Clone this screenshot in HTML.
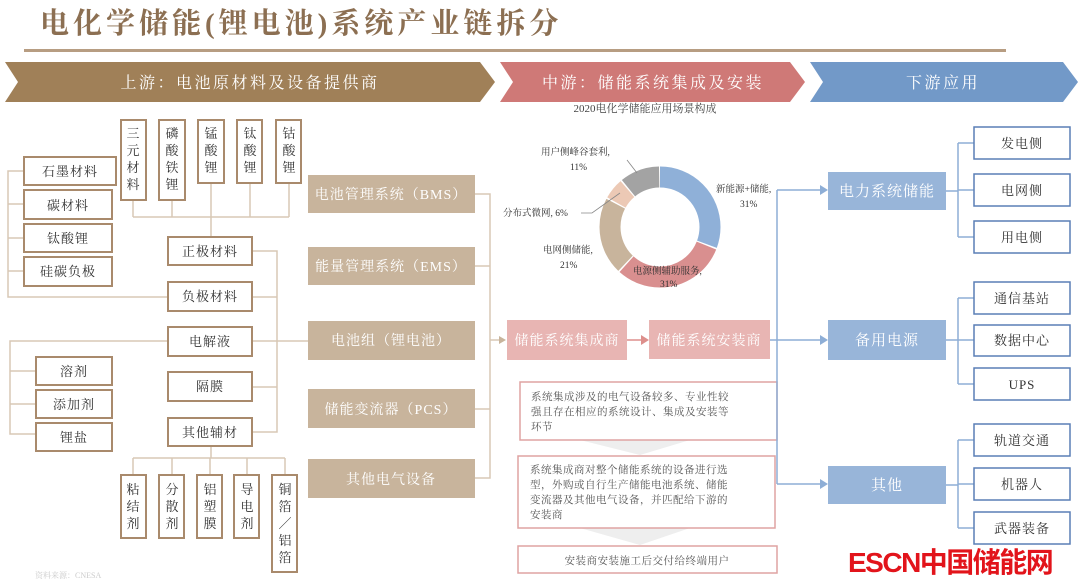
<!DOCTYPE html>
<html><head><meta charset="utf-8"><style>
html,body{margin:0;padding:0;background:#fff;}
svg{display:block;font-family:"Liberation Serif","Noto Serif CJK SC",serif;}
</style></head><body>
<svg width="1080" height="588" viewBox="0 0 1080 588" xmlns="http://www.w3.org/2000/svg">
<!-- title -->
<text x="40" y="33" font-size="29" fill="#8c6f52" font-weight="bold" letter-spacing="4" font-family="Liberation Serif,Noto Serif CJK SC,serif">电化学储能(锂电池)系统产业链拆分</text>
<rect x="24" y="49" width="982" height="3" fill="#b79d82"/>
<!-- chevrons -->
<polygon points="5,62 480,62 495,82 480,102 5,102 18,82" fill="#a08058"/>
<polygon points="500,62 790,62 805,82 790,102 500,102 513,82" fill="#cf7977"/>
<polygon points="810,62 1063,62 1078,82 1063,102 810,102 823,82" fill="#7299c8"/>
<g fill="#fff" font-size="16" text-anchor="middle" letter-spacing="2.5">
<text x="250" y="88">上游：电池原材料及设备提供商</text>
<text x="653" y="88">中游：储能系统集成及安装</text>
<text x="943" y="88">下游应用</text>
</g>
<!-- upstream lines -->
<g stroke="#d8c8b6" stroke-width="1.5" fill="none">
<path d="M24,171 H8 V297 H168"/>
<path d="M8,204 H24 M8,238 H24 M8,271 H24"/>
<path d="M133,200 V217 M172,200 V217 M250,183 V217 M289,183 V217 M133,217 H289"/>
<path d="M211,183 V237"/>
<path d="M252,251 H277 V432 H252 M252,297 H277 M252,387 H277 M252,341 H308"/>
<path d="M168,341 H10 V434 H36 M10,371 H36 M10,404 H36"/>
<path d="M211,446 V458 M133,458 H285 M133,458 V475 M172,458 V475 M210,458 V475 M247,458 V475 M285,458 V475"/>
<path d="M475,194 H490 V478 H475 M475,266 H490 M475,409 H490 M490,340 H500"/>
</g>
<polygon points="499,336 506,340 499,344" fill="#c8b49c"/>
<g fill="#fff" stroke="#a98a6c" stroke-width="2">
<rect x="24" y="157" width="92" height="28"/>
<rect x="24" y="190" width="88" height="29"/>
<rect x="24" y="224" width="88" height="28"/>
<rect x="24" y="257" width="88" height="29"/>
<rect x="121" y="120" width="25" height="80"/>
<rect x="159" y="120" width="26" height="80"/>
<rect x="198" y="120" width="26" height="63"/>
<rect x="237" y="120" width="25" height="63"/>
<rect x="276" y="120" width="25" height="63"/>
<rect x="168" y="237" width="84" height="28"/>
<rect x="168" y="282" width="84" height="29"/>
<rect x="168" y="327" width="84" height="29"/>
<rect x="168" y="372" width="84" height="29"/>
<rect x="168" y="418" width="84" height="28"/>
<rect x="36" y="357" width="76" height="28"/>
<rect x="36" y="390" width="76" height="28"/>
<rect x="36" y="423" width="76" height="28"/>
<rect x="121" y="475" width="25" height="63"/>
<rect x="159" y="475" width="25" height="63"/>
<rect x="197" y="475" width="25" height="63"/>
<rect x="234" y="475" width="25" height="63"/>
<rect x="272" y="475" width="25" height="97"/>
</g>
<g fill="#333" font-size="13" text-anchor="middle" letter-spacing="1">
<text x="70" y="176">石墨材料</text>
<text x="68" y="210">碳材料</text>
<text x="68" y="243">钛酸锂</text>
<text x="68" y="276">硅碳负极</text>
<text x="210" y="256">正极材料</text>
<text x="210" y="301">负极材料</text>
<text x="210" y="346">电解液</text>
<text x="210" y="391">隔膜</text>
<text x="210" y="437">其他辅材</text>
<text x="74" y="376">溶剂</text>
<text x="74" y="409">添加剂</text>
<text x="74" y="442">锂盐</text>
</g>
<g fill="#333" font-size="13" text-anchor="middle">
<text x="133" y="138">三</text><text x="133" y="155">元</text><text x="133" y="172">材</text><text x="133" y="189">料</text>
<text x="172" y="138">磷</text><text x="172" y="155">酸</text><text x="172" y="172">铁</text><text x="172" y="189">锂</text>
<text x="211" y="138">锰</text><text x="211" y="155">酸</text><text x="211" y="172">锂</text>
<text x="250" y="138">钛</text><text x="250" y="155">酸</text><text x="250" y="172">锂</text>
<text x="289" y="138">钴</text><text x="289" y="155">酸</text><text x="289" y="172">锂</text>
<text x="133" y="494">粘</text><text x="133" y="511">结</text><text x="133" y="528">剂</text>
<text x="172" y="494">分</text><text x="172" y="511">散</text><text x="172" y="528">剂</text>
<text x="210" y="494">铝</text><text x="210" y="511">塑</text><text x="210" y="528">膜</text>
<text x="247" y="494">导</text><text x="247" y="511">电</text><text x="247" y="528">剂</text>
<text x="285" y="494">铜</text><text x="285" y="511">箔</text><text x="285" y="528">／</text><text x="285" y="545">铝</text><text x="285" y="562">箔</text>
</g>
<text x="35" y="578" font-size="8" fill="#ccc">资料来源：CNESA</text>
<!-- middle tan boxes -->
<g fill="#c8b49c">
<rect x="308" y="175" width="167" height="38"/>
<rect x="308" y="247" width="167" height="38"/>
<rect x="308" y="321" width="167" height="39"/>
<rect x="308" y="389" width="167" height="39"/>
<rect x="308" y="459" width="167" height="39"/>
</g>
<g fill="#fff" font-size="14" text-anchor="middle" letter-spacing="1">
<text x="391" y="199">电池管理系统（BMS）</text>
<text x="391" y="271">能量管理系统（EMS）</text>
<text x="391" y="345">电池组（锂电池）</text>
<text x="391" y="414">储能变流器（PCS）</text>
<text x="391" y="484">其他电气设备</text>
</g>
<!-- donut -->
<text x="645" y="112" font-size="11" fill="#444" text-anchor="middle">2020电化学储能应用场景构成</text>
<g transform="rotate(-90 660 227)" fill="none" stroke-width="21">
<circle cx="660" cy="227" r="50" stroke="#8fb0d8" stroke-dasharray="96 218.2" stroke-dashoffset="0"/>
<circle cx="660" cy="227" r="50" stroke="#d98f8f" stroke-dasharray="96 218.2" stroke-dashoffset="-97.4"/>
<circle cx="660" cy="227" r="50" stroke="#c8b49c" stroke-dasharray="64.6 249.6" stroke-dashoffset="-194.8"/>
<circle cx="660" cy="227" r="50" stroke="#ecc9b5" stroke-dasharray="17.4 296.8" stroke-dashoffset="-260.8"/>
<circle cx="660" cy="227" r="50" stroke="#a3a3a3" stroke-dasharray="33.2 281" stroke-dashoffset="-279.6"/>
</g>
<g font-size="9.5" fill="#333">
<text x="716" y="192">新能源+储能,</text><text x="740" y="207">31%</text>
<text x="633" y="274">电源侧辅助服务,</text><text x="660" y="287">31%</text>
<text x="543" y="253">电网侧储能,</text><text x="560" y="268">21%</text>
<text x="503" y="216">分布式微网, 6%</text>
<text x="541" y="155">用户侧峰谷套利,</text><text x="570" y="170">11%</text>
</g>
<path d="M581,213 H592 L620,193 M627,160 L637,173" stroke="#888" stroke-width="0.8" fill="none"/>
<!-- pink boxes -->
<rect x="507" y="320" width="120" height="40" fill="#e8b5b3"/>
<rect x="649" y="320" width="121" height="39" fill="#e8b5b3"/>
<g fill="#fff" font-size="14" text-anchor="middle" letter-spacing="1">
<text x="567" y="345">储能系统集成商</text>
<text x="709" y="345">储能系统安装商</text>
</g>
<path d="M627,340 H642" stroke="#dd8f8c" stroke-width="1.5"/>
<polygon points="641,335 649,340 641,345" fill="#dd8f8c"/>
<!-- text boxes -->
<polygon points="580,440 690,440 640,455" fill="#eeeeee"/>
<polygon points="580,528 690,528 640,545" fill="#eeeeee"/>
<g fill="#fff" stroke="#dfa3a2" stroke-width="1.5">
<rect x="520" y="382" width="257" height="58"/>
<rect x="518" y="456" width="257" height="72"/>
<rect x="518" y="546" width="259" height="27"/>
</g>
<g font-size="10.5" fill="#555" letter-spacing="0.5">
<text x="531" y="400">系统集成涉及的电气设备较多、专业性较</text>
<text x="531" y="415">强且存在相应的系统设计、集成及安装等</text>
<text x="531" y="430">环节</text>
<text x="530" y="473">系统集成商对整个储能系统的设备进行选</text>
<text x="530" y="488">型，外购或自行生产储能电池系统、储能</text>
<text x="530" y="503">变流器及其他电气设备，并匹配给下游的</text>
<text x="530" y="518">安装商</text>
<text x="647" y="564" text-anchor="middle">安装商安装施工后交付给终端用户</text>
</g>
<!-- downstream lines -->
<g stroke="#8eaed6" stroke-width="1.5" fill="none">
<path d="M770,340 H820 M777,190 V484 M777,190 H820 M777,484 H820"/>
<path d="M946,191 H958 M958,143 V237 M958,143 H974 M958,190 H974 M958,237 H974"/>
<path d="M946,340 H958 M958,298 V384 M958,298 H974 M958,340 H974 M958,384 H974"/>
<path d="M946,485 H958 M958,440 V528 M958,440 H974 M958,484 H974 M958,528 H974"/>
</g>
<g fill="#8eaed6">
<polygon points="820,185 828,190 820,195"/>
<polygon points="820,335 828,340 820,345"/>
<polygon points="820,479 828,484 820,489"/>
</g>
<g fill="#98b5d9">
<rect x="828" y="172" width="118" height="38"/>
<rect x="828" y="320" width="118" height="40"/>
<rect x="828" y="466" width="118" height="38"/>
</g>
<g fill="#fff" font-size="15" text-anchor="middle" letter-spacing="1">
<text x="887" y="196">电力系统储能</text>
<text x="887" y="345">备用电源</text>
<text x="887" y="490">其他</text>
</g>
<g fill="#fff" stroke="#5a7fb6" stroke-width="1.5">
<rect x="974" y="127" width="96" height="32"/>
<rect x="974" y="174" width="96" height="32"/>
<rect x="974" y="221" width="96" height="32"/>
<rect x="974" y="282" width="96" height="32"/>
<rect x="974" y="325" width="96" height="31"/>
<rect x="974" y="368" width="96" height="32"/>
<rect x="974" y="424" width="96" height="32"/>
<rect x="974" y="468" width="96" height="32"/>
<rect x="974" y="512" width="96" height="32"/>
</g>
<g fill="#333" font-size="13" text-anchor="middle" letter-spacing="1">
<text x="1022" y="148">发电侧</text>
<text x="1022" y="195">电网侧</text>
<text x="1022" y="242">用电侧</text>
<text x="1022" y="303">通信基站</text>
<text x="1022" y="345">数据中心</text>
<text x="1022" y="389">UPS</text>
<text x="1022" y="445">轨道交通</text>
<text x="1022" y="489">机器人</text>
<text x="1022" y="533">武器装备</text>
</g>
<text x="848" y="572" font-size="28" font-weight="bold" fill="#e2141b" font-family="Liberation Sans,Noto Sans CJK SC,sans-serif" letter-spacing="-1.5">ESCN中国储能网</text>
</svg>
</body></html>
